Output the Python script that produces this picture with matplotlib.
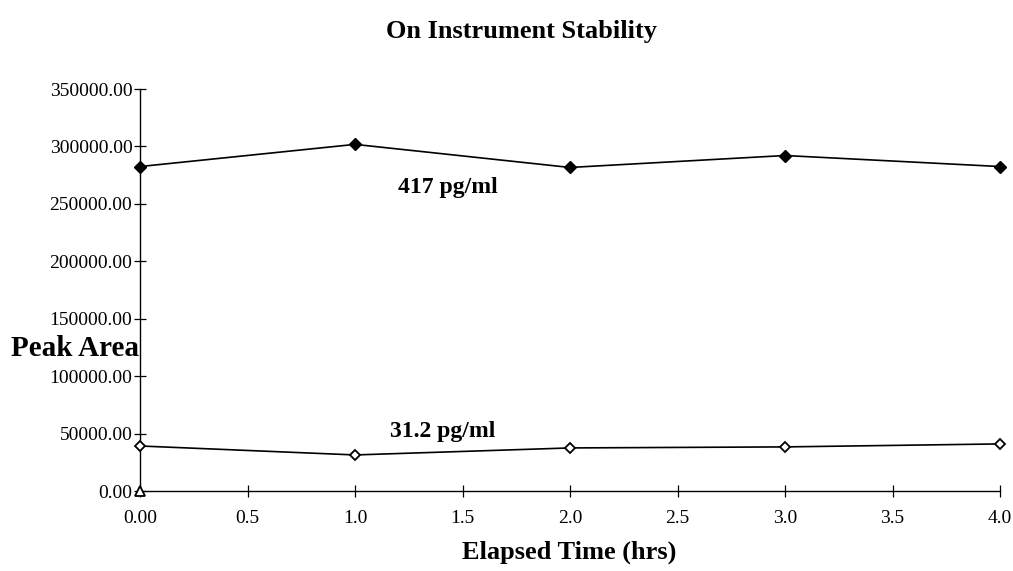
import matplotlib
matplotlib.use('Agg')
import matplotlib.pyplot as plt

# ---- Data ----
hours = [0.0, 1.0, 2.0, 3.0, 4.0]
area_417 = [282500, 301800, 281700, 292100, 282500]
area_31 = [39200, 31400, 37500, 38400, 41000]
blank_x = [0.0]
blank_y = [0.0]

xticks = [0.0, 0.5, 1.0, 1.5, 2.0, 2.5, 3.0, 3.5, 4.0]
xtick_labels = ['0.00', '0.5', '1.0', '1.5', '2.0', '2.5', '3.0', '3.5', '4.0']
yticks = [0, 50000, 100000, 150000, 200000, 250000, 300000, 350000]
ytick_labels = ['%.2f' % v for v in yticks]

plt.rcParams['font.family'] = ['Liberation Serif', 'DejaVu Serif']

fig = plt.figure(figsize=(10.13, 5.71), dpi=100)
ax = fig.add_axes([0.1382, 0.1401, 0.8490, 0.7040])

ax.plot(hours, area_417, color='black', lw=1.2, marker='D', ms=6,
        mfc='black', mec='black', clip_on=False, zorder=3)
ax.plot(hours, area_31, color='black', lw=1.2, marker='D', ms=5.5,
        mfc='white', mec='black', mew=1.3, clip_on=False, zorder=3)
ax.plot(blank_x, blank_y, linestyle='none', marker='^', ms=6.5,
        mfc='white', mec='black', mew=1.3, clip_on=False, zorder=4)

ax.set_xlim(0, 4.0)
ax.set_ylim(0, 350000)
ax.set_xticks(xticks)
ax.set_xticklabels(xtick_labels)
ax.set_yticks(yticks)
ax.set_yticklabels(ytick_labels)

for side in ['top', 'right']:
    ax.spines[side].set_visible(False)
for side in ['left', 'bottom']:
    ax.spines[side].set_linewidth(1.0)

ax.tick_params(axis='both', direction='inout', length=9, width=0.9,
               labelsize=14, colors='black')
ax.tick_params(axis='y', pad=1)
ax.tick_params(axis='x', pad=9)

ax.text(1.43, 264000, '417 pg/ml', fontsize=17, fontweight='bold',
        ha='center', va='center')
ax.text(1.41, 52000, '31.2 pg/ml', fontsize=17, fontweight='bold',
        ha='center', va='center')

fig.text(0.515, 0.945, 'On Instrument Stability', fontsize=19,
         fontweight='bold', ha='center', va='center')
fig.text(0.011, 0.39, 'Peak Area', fontsize=21, fontweight='bold',
         ha='left', va='center')
fig.text(0.562, 0.032, 'Elapsed Time (hrs)', fontsize=19,
         fontweight='bold', ha='center', va='center')

fig.savefig('out.png', dpi=100)
